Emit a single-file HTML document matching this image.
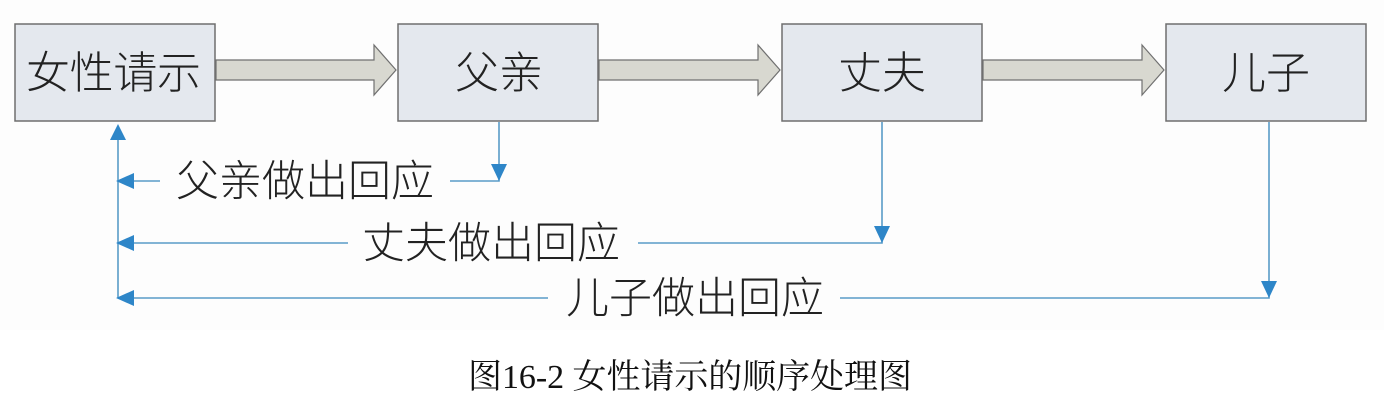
<!DOCTYPE html>
<html><head><meta charset="utf-8"><style>
body{margin:0;background:#fff;width:1384px;height:408px;overflow:hidden;position:relative;font-family:"Liberation Serif","Noto Serif CJK SC","Noto Sans CJK SC",serif}
svg{position:absolute;left:0;top:0}
</style></head><body>
<svg width="1384" height="408" viewBox="0 0 1384 408">
<rect x="0" y="0" width="1384" height="330" fill="#fdfdfd"/>
<g fill="#e4e8ee" stroke="#6e6e6e" stroke-width="1.5">
<rect x="15" y="24" width="200" height="97"/>
<rect x="398" y="24" width="200" height="97"/>
<rect x="782" y="24" width="200" height="97"/>
<rect x="1166" y="24" width="200" height="97"/>
</g>
<g fill="#d8d8d0" stroke="#707070" stroke-width="1.2">
<polygon points="216,60 374,60 374,45 396,70 374,95 374,80 216,80"/>
<polygon points="599,60 758,60 758,45 780,70 758,95 758,80 599,80"/>
<polygon points="983,60 1142,60 1142,45 1164,70 1142,95 1142,80 983,80"/>
</g>
<g font-family="'Noto Sans CJK SC',sans-serif" font-size="44" fill="#222" font-weight="300">
<text x="26" y="88" textLength="175" lengthAdjust="spacing">女性请示</text>
<text x="455" y="88" textLength="88" lengthAdjust="spacing">父亲</text>
<text x="838" y="88" textLength="88" lengthAdjust="spacing">丈夫</text>
<text x="1222" y="88" textLength="88" lengthAdjust="spacing">儿子</text>
</g>
<g stroke="#5a9cc8" stroke-width="1.6" fill="none">
<line x1="118" y1="135" x2="118" y2="298"/>
<polyline points="450,181 499,181 499,122"/>
<line x1="130" y1="181" x2="160" y2="181"/>
<polyline points="638,243 882,243 882,122"/>
<line x1="130" y1="243" x2="348" y2="243"/>
<polyline points="840,298 1269,298 1269,122"/>
<line x1="130" y1="298" x2="548" y2="298"/>
</g>
<g fill="#2e86c8">
<polygon points="118,124 110,140 126,140"/>
<polygon points="116,181 134,173 134,189"/>
<polygon points="116,243 134,235 134,251"/>
<polygon points="116,298 134,290 134,306"/>
<polygon points="499,181 491,164 507,164"/>
<polygon points="882,243 874,226 890,226"/>
<polygon points="1269,298 1261,281 1277,281"/>
</g>
<g font-family="'Noto Sans CJK SC',sans-serif" font-size="43" fill="#222" font-weight="300">
<text x="176" y="196" textLength="258" lengthAdjust="spacing">父亲做出回应</text>
<text x="362" y="258" textLength="258" lengthAdjust="spacing">丈夫做出回应</text>
<text x="566" y="313" textLength="258" lengthAdjust="spacing">儿子做出回应</text>
</g>
<text x="468" y="388" font-size="34" fill="#111" textLength="444" lengthAdjust="spacing" font-family="'Liberation Serif','Noto Serif CJK SC',serif">图16-2 女性请示的顺序处理图</text>
</svg>
</body></html>
